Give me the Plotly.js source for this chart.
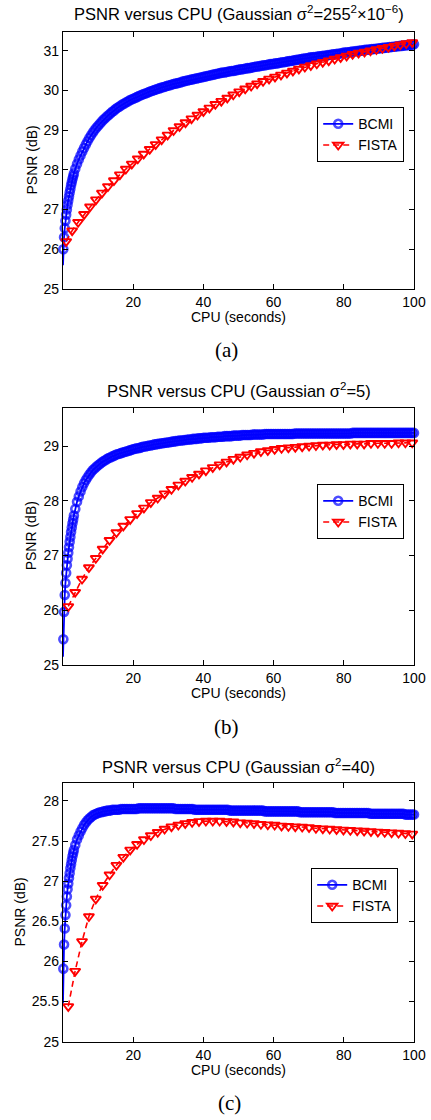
<!DOCTYPE html>
<html>
<head>
<meta charset="utf-8">
<script src="https://cdn.plot.ly/plotly-3.0.1.min.js"></script>
<style>html,body{margin:0;padding:0;background:#fff;}#chart{width:431px;height:1120px;}</style>
</head>
<body>
<div id="chart"></div>
<script>
// ---------- DATA ----------
// BCMI iteration times (seconds), shared by the three panels
const bcmiTime = [
  0, 0.1, 0.3, 0.5, 0.7, 0.9, 1.1, 1.3, 1.5, 1.7, 1.9, 2.1, 2.3, 2.5, 2.7, 2.9, 3.1, 3.5, 4, 4.5,
  5, 5.5, 6, 6.5, 7, 7.5, 8, 8.5, 9, 9.5,
  10, 10.5, 11, 11.5, 12, 12.5, 13, 13.5, 14, 14.5,
  15, 15.5, 16, 16.5, 17, 17.5, 18, 18.5, 19, 19.5,
  20, 20.5, 21, 21.5, 22, 22.5, 23, 23.5, 24, 24.5,
  25, 25.5, 26, 26.5, 27, 27.5, 28, 28.5, 29, 29.5,
  30, 30.5, 31, 31.5, 32, 32.5, 33, 33.5, 34, 34.5,
  35, 35.5, 36, 36.5, 37, 37.5, 38, 38.5, 39, 39.5,
  40, 40.5, 41, 41.5, 42, 42.5, 43, 43.5, 44, 44.5,
  45, 45.5, 46, 46.5, 47, 47.5, 48, 48.5, 49, 49.5,
  50, 50.5, 51, 51.5, 52, 52.5, 53, 53.5, 54, 54.5,
  55, 55.5, 56, 56.5, 57, 57.5, 58, 58.5, 59, 59.5,
  60, 60.5, 61, 61.5, 62, 62.5, 63, 63.5, 64, 64.5,
  65, 65.5, 66, 66.5, 67, 67.5, 68, 68.5, 69, 69.5,
  70, 70.5, 71, 71.5, 72, 72.5, 73, 73.5, 74, 74.5,
  75, 75.5, 76, 76.5, 77, 77.5, 78, 78.5, 79, 79.5,
  80, 80.5, 81, 81.5, 82, 82.5, 83, 83.5, 84, 84.5,
  85, 85.5, 86, 86.5, 87, 87.5, 88, 88.5, 89, 89.5,
  90, 90.5, 91, 91.5, 92, 92.5, 93, 93.5, 94, 94.5,
  95, 95.5, 96, 96.5, 97, 97.5, 98, 98.5, 99, 99.5,
  100
];

// (a) Gaussian sigma^2 = 255^2 x 10^-6
const bcmiA = [
  25.60, 26.00, 26.30, 26.53, 26.72, 26.87, 27.00, 27.12, 27.23, 27.33, 27.43, 27.52, 27.61, 27.69, 27.77, 27.84, 27.91, 28.03, 28.15, 28.26,
  28.36, 28.46, 28.55, 28.64, 28.72, 28.80, 28.87, 28.94, 29.00, 29.06,
  29.11, 29.16, 29.21, 29.26, 29.30, 29.34, 29.38, 29.42, 29.46, 29.49,
  29.53, 29.56, 29.59, 29.62, 29.65, 29.67, 29.70, 29.72, 29.75, 29.77,
  29.79, 29.81, 29.83, 29.85, 29.87, 29.89, 29.91, 29.92, 29.94, 29.96,
  29.98, 29.99, 30.01, 30.02, 30.04, 30.05, 30.07, 30.08, 30.09, 30.11,
  30.12, 30.13, 30.15, 30.16, 30.17, 30.18, 30.19, 30.20, 30.22, 30.23,
  30.24, 30.25, 30.26, 30.27, 30.28, 30.29, 30.30, 30.31, 30.32, 30.33,
  30.34, 30.35, 30.36, 30.37, 30.38, 30.39, 30.40, 30.41, 30.42, 30.43,
  30.44, 30.45, 30.45, 30.46, 30.47, 30.48, 30.49, 30.49, 30.50, 30.51,
  30.52, 30.53, 30.53, 30.54, 30.55, 30.56, 30.56, 30.57, 30.58, 30.59,
  30.60, 30.60, 30.61, 30.62, 30.63, 30.63, 30.64, 30.65, 30.66, 30.66,
  30.67, 30.68, 30.68, 30.69, 30.70, 30.71, 30.71, 30.72, 30.73, 30.74,
  30.74, 30.75, 30.76, 30.77, 30.77, 30.78, 30.79, 30.80, 30.80, 30.81,
  30.82, 30.83, 30.83, 30.84, 30.84, 30.85, 30.86, 30.86, 30.87, 30.87,
  30.88, 30.89, 30.89, 30.90, 30.91, 30.91, 30.92, 30.92, 30.93, 30.94,
  30.95, 30.95, 30.96, 30.96, 30.97, 30.98, 30.98, 30.99, 30.99, 31.00,
  31.00, 31.01, 31.02, 31.02, 31.03, 31.03, 31.04, 31.04, 31.05, 31.05,
  31.06, 31.06, 31.07, 31.07, 31.08, 31.08, 31.09, 31.09, 31.10, 31.10,
  31.11, 31.11, 31.12, 31.12, 31.13, 31.13, 31.14, 31.14, 31.15, 31.15,
  31.16
];
const fistaTimeA = [
  0.9, 2.6, 4.3, 6, 7.7, 9.4, 11.1, 12.8, 14.5, 16.2,
  17.9, 19.6, 21.3, 23, 24.7, 26.4, 28.1, 29.8, 31.5, 33.2,
  34.9, 36.6, 38.3, 40, 41.7, 43.4, 45.1, 46.8, 48.5, 50.2,
  51.9, 53.6, 55.3, 57, 58.7, 60.4, 62.1, 63.8, 65.5, 67.2,
  68.9, 70.6, 72.3, 74, 75.7, 77.4, 79.1, 80.8, 82.5, 84.2,
  85.9, 87.6, 89.3, 91, 92.7, 94.4, 96.1, 97.8, 99.5
];
const fistaA = [
  26.20, 26.47, 26.68, 26.88, 27.07, 27.25, 27.42, 27.58, 27.73, 27.88,
  28.02, 28.15, 28.28, 28.40, 28.52, 28.64, 28.76, 28.88, 28.99, 29.09,
  29.19, 29.29, 29.38, 29.47, 29.56, 29.65, 29.73, 29.81, 29.89, 29.97,
  30.04, 30.11, 30.17, 30.23, 30.29, 30.34, 30.39, 30.44, 30.49, 30.54,
  30.59, 30.63, 30.67, 30.71, 30.75, 30.79, 30.83, 30.87, 30.91, 30.94,
  30.97, 31.00, 31.03, 31.06, 31.09, 31.12, 31.15, 31.18, 31.21
];

// (b) Gaussian sigma^2 = 5
const bcmiB = [
  25.15, 25.47, 25.97, 26.28, 26.50, 26.68, 26.82, 26.94, 27.05, 27.15, 27.25, 27.34, 27.43, 27.51, 27.59, 27.66, 27.73, 27.85, 27.98, 28.08,
  28.17, 28.25, 28.32, 28.38, 28.43, 28.48, 28.52, 28.56, 28.59, 28.62,
  28.65, 28.67, 28.70, 28.72, 28.74, 28.76, 28.78, 28.79, 28.81, 28.82,
  28.84, 28.85, 28.86, 28.87, 28.88, 28.89, 28.90, 28.91, 28.92, 28.93,
  28.94, 28.95, 28.96, 28.96, 28.97, 28.98, 28.99, 28.99, 29.00, 29.01,
  29.01, 29.02, 29.03, 29.03, 29.04, 29.04, 29.05, 29.05, 29.06, 29.06,
  29.07, 29.07, 29.08, 29.08, 29.09, 29.09, 29.10, 29.10, 29.10, 29.11,
  29.11, 29.12, 29.12, 29.12, 29.13, 29.13, 29.13, 29.14, 29.14, 29.14,
  29.15, 29.15, 29.15, 29.15, 29.16, 29.16, 29.16, 29.16, 29.17, 29.17,
  29.17, 29.17, 29.18, 29.18, 29.18, 29.18, 29.18, 29.19, 29.19, 29.19,
  29.19, 29.19, 29.20, 29.20, 29.20, 29.20, 29.20, 29.20, 29.21, 29.21,
  29.21, 29.21, 29.21, 29.21, 29.21, 29.22, 29.22, 29.22, 29.22, 29.22,
  29.22, 29.22, 29.22, 29.22, 29.22, 29.22, 29.22, 29.22, 29.22, 29.22,
  29.22, 29.22, 29.23, 29.23, 29.23, 29.23, 29.23, 29.23, 29.23, 29.23,
  29.23, 29.23, 29.23, 29.23, 29.23, 29.23, 29.23, 29.23, 29.23, 29.23,
  29.23, 29.23, 29.23, 29.23, 29.23, 29.23, 29.23, 29.23, 29.23, 29.23,
  29.23, 29.23, 29.23, 29.23, 29.23, 29.24, 29.24, 29.24, 29.24, 29.24,
  29.24, 29.24, 29.24, 29.24, 29.24, 29.24, 29.24, 29.24, 29.24, 29.24,
  29.24, 29.24, 29.24, 29.24, 29.24, 29.24, 29.24, 29.24, 29.24, 29.24,
  29.24, 29.24, 29.24, 29.24, 29.24, 29.24, 29.24, 29.24, 29.24, 29.24,
  29.24
];
const fistaTimeBC = [
  1.5, 3.46, 5.42, 7.38, 9.34, 11.3, 13.26, 15.22, 17.18, 19.14,
  21.1, 23.06, 25.02, 26.98, 28.94, 30.9, 32.86, 34.82, 36.78, 38.74,
  40.7, 42.66, 44.62, 46.58, 48.54, 50.5, 52.46, 54.42, 56.38, 58.34,
  60.3, 62.26, 64.22, 66.18, 68.14, 70.1, 72.06, 74.02, 75.98, 77.94,
  79.9, 81.86, 83.82, 85.78, 87.74, 89.7, 91.66, 93.62, 95.58, 97.54,
  99.5
];
const fistaB = [
  26.07, 26.33, 26.57, 26.78, 26.95, 27.12, 27.28, 27.42, 27.54, 27.66,
  27.77, 27.87, 27.97, 28.05, 28.13, 28.21, 28.29, 28.36, 28.43, 28.49,
  28.55, 28.61, 28.66, 28.71, 28.76, 28.80, 28.84, 28.87, 28.90, 28.92,
  28.94, 28.96, 28.97, 28.98, 28.99, 29.00, 29.01, 29.02, 29.02, 29.03,
  29.03, 29.04, 29.04, 29.04, 29.05, 29.05, 29.05, 29.05, 29.06, 29.06,
  29.06
];

// (c) Gaussian sigma^2 = 40
const bcmiC = [
  25.48, 25.91, 26.21, 26.41, 26.58, 26.70, 26.81, 26.90, 26.97, 27.04, 27.10, 27.16, 27.21, 27.26, 27.31, 27.35, 27.39, 27.45, 27.52, 27.57,
  27.62, 27.66, 27.70, 27.73, 27.76, 27.78, 27.80, 27.82, 27.83, 27.84,
  27.85, 27.86, 27.86, 27.87, 27.87, 27.88, 27.88, 27.88, 27.89, 27.89,
  27.89, 27.89, 27.89, 27.90, 27.90, 27.90, 27.90, 27.90, 27.90, 27.90,
  27.90, 27.90, 27.90, 27.91, 27.91, 27.91, 27.91, 27.91, 27.91, 27.91,
  27.91, 27.91, 27.91, 27.91, 27.91, 27.91, 27.91, 27.91, 27.91, 27.91,
  27.91, 27.91, 27.91, 27.91, 27.90, 27.90, 27.90, 27.90, 27.90, 27.90,
  27.90, 27.90, 27.90, 27.90, 27.90, 27.89, 27.89, 27.89, 27.89, 27.89,
  27.89, 27.89, 27.89, 27.89, 27.89, 27.89, 27.89, 27.89, 27.89, 27.89,
  27.89, 27.89, 27.89, 27.89, 27.89, 27.88, 27.88, 27.88, 27.88, 27.88,
  27.88, 27.88, 27.88, 27.88, 27.88, 27.88, 27.88, 27.88, 27.88, 27.88,
  27.88, 27.88, 27.88, 27.88, 27.88, 27.87, 27.87, 27.87, 27.87, 27.87,
  27.87, 27.87, 27.87, 27.87, 27.87, 27.87, 27.87, 27.87, 27.87, 27.87,
  27.87, 27.87, 27.87, 27.87, 27.87, 27.86, 27.86, 27.86, 27.86, 27.86,
  27.86, 27.86, 27.86, 27.86, 27.86, 27.86, 27.86, 27.86, 27.86, 27.86,
  27.86, 27.86, 27.86, 27.86, 27.86, 27.85, 27.85, 27.85, 27.85, 27.85,
  27.85, 27.85, 27.85, 27.85, 27.85, 27.85, 27.85, 27.85, 27.85, 27.85,
  27.85, 27.85, 27.85, 27.85, 27.85, 27.84, 27.84, 27.84, 27.84, 27.84,
  27.84, 27.84, 27.84, 27.84, 27.84, 27.84, 27.84, 27.84, 27.84, 27.84,
  27.84, 27.84, 27.84, 27.84, 27.84, 27.83, 27.83, 27.83, 27.83, 27.83,
  27.83
];
const fistaC = [
  25.44, 25.88, 26.25, 26.56, 26.78, 26.95, 27.08, 27.20, 27.30, 27.39,
  27.46, 27.52, 27.57, 27.61, 27.65, 27.68, 27.70, 27.72, 27.735, 27.745,
  27.75, 27.75, 27.75, 27.745, 27.74, 27.73, 27.725, 27.72, 27.71, 27.705,
  27.70, 27.69, 27.685, 27.68, 27.675, 27.67, 27.66, 27.655, 27.65, 27.645,
  27.64, 27.635, 27.63, 27.625, 27.62, 27.615, 27.61, 27.605, 27.60, 27.595,
  27.59
];

const xTickVals = [20, 40, 60, 80, 100];
const yTicksA = [25, 26, 27, 28, 29, 30, 31];
const yTicksB = [25, 26, 27, 28, 29];
const yTicksC = [25, 25.5, 26, 26.5, 27, 27.5, 28];
const yTickTextC = ['25', '25.5', '26', '26.5', '27', '27.5', '28'];
const seriesNames = ['BCMI', 'FISTA'];
const titles = [
  'PSNR versus CPU (Gaussian σ<sup>2</sup>=255<sup>2</sup>×10<sup>−6</sup>)',
  'PSNR versus CPU (Gaussian σ<sup>2</sup>=5)',
  'PSNR versus CPU (Gaussian σ<sup>2</sup>=40)'
];
const captions = ['(a)', '(b)', '(c)'];
const xTitle = 'CPU (seconds)';
const yTitle = 'PSNR (dB)';

// sanity checks
[[bcmiA, bcmiTime], [bcmiB, bcmiTime], [bcmiC, bcmiTime], [fistaA, fistaTimeA], [fistaB, fistaTimeBC], [fistaC, fistaTimeBC]].forEach((p, i) => {
  if (p[0].length !== p[1].length) throw new Error('length mismatch in series ' + i + ': ' + p[0].length + ' vs ' + p[1].length);
});

// ---------- LAYOUT HELPERS ----------
const W = 431, H = 1120;
const px = v => v / W;
const py = v => 1 - v / H;
const BLUE = '#0000ff', RED = '#ff0000';
const FONT = 'Liberation Sans, Arial, Helvetica, sans-serif';

// first BCMI sample has no marker (lies at the axis start)
const bcmiSizes = bcmiTime.map((t, i) => (i === 0 ? 0 : 8));

function bcmiTrace(y, xa, ya, lg) {
  return {
    x: bcmiTime, y: y, xaxis: xa, yaxis: ya, legend: lg, name: seriesNames[0],
    type: 'scatter', mode: 'lines+markers', cliponaxis: false,
    line: {color: BLUE, width: 1.8},
    marker: {symbol: 'circle-open', size: bcmiSizes, color: BLUE, line: {width: 2.6, color: BLUE}}
  };
}
function fistaTrace(x, y, xa, ya, lg) {
  return {
    x: x, y: y, xaxis: xa, yaxis: ya, legend: lg, name: seriesNames[1],
    type: 'scatter', mode: 'lines+markers', cliponaxis: false,
    line: {color: RED, width: 1.6, dash: '6px,4px'},
    marker: {symbol: 'triangle-down-open', size: 9, color: RED, line: {width: 1.9, color: RED}}
  };
}

const data = [
  bcmiTrace(bcmiA, 'x', 'y', 'legend'),
  fistaTrace(fistaTimeA, fistaA, 'x', 'y', 'legend'),
  bcmiTrace(bcmiB, 'x2', 'y2', 'legend2'),
  fistaTrace(fistaTimeBC, fistaB, 'x2', 'y2', 'legend2'),
  bcmiTrace(bcmiC, 'x3', 'y3', 'legend3'),
  fistaTrace(fistaTimeBC, fistaC, 'x3', 'y3', 'legend3')
];

// panel boxes in pixels: [left, right, top, bottom]
const boxes = [
  [63, 414, 32, 289],
  [63, 414, 407.7, 665],
  [63, 414, 783.3, 1041.7]
];
const yRanges = [[25, 31.47], [25, 29.7], [25, 28.22]];
const yTickSets = [yTicksA, yTicksB, yTicksC];
const yTickTexts = [yTicksA.map(String), yTicksB.map(String), yTickTextC];

function xAxis(i) {
  const b = boxes[i];
  return {
    domain: [px(b[0]), px(b[1])], anchor: i === 0 ? 'y' : 'y' + (i + 1),
    range: [0, 100], tickmode: 'array', tickvals: xTickVals, ticktext: xTickVals.map(String),
    ticks: 'inside', ticklen: 5, tickwidth: 1, tickcolor: 'black',
    showline: true, mirror: 'ticks', linecolor: 'black', linewidth: 1.2,
    showgrid: false, zeroline: false, fixedrange: true,
    tickfont: {family: FONT, size: 14, color: 'black'}
  };
}
function yAxis(i) {
  const b = boxes[i];
  return {
    domain: [py(b[3]), py(b[2])], anchor: i === 0 ? 'x' : 'x' + (i + 1),
    range: yRanges[i], tickmode: 'array', tickvals: yTickSets[i], ticktext: yTickTexts[i],
    ticks: 'inside', ticklen: 5, tickwidth: 1, tickcolor: 'black',
    showline: true, mirror: 'ticks', linecolor: 'black', linewidth: 1.2,
    showgrid: false, zeroline: false, fixedrange: true,
    tickfont: {family: FONT, size: 14, color: 'black'}
  };
}
function legendAt(left, top) {
  return {
    x: px(left), y: py(top), xanchor: 'left', yanchor: 'top',
    bgcolor: 'white', bordercolor: 'black', borderwidth: 1.2,
    font: {family: FONT, size: 14, color: 'black'}, itemwidth: 30, tracegroupgap: 0
  };
}

const titleY = [13, 390, 766];
const xTitleY = [316.7, 693, 1070];
const yTitleX = [31, 31, 19];
const captionPos = [[226, 350], [226, 726.7], [229, 1103]];

const annotations = [];
for (let i = 0; i < 3; i++) {
  const b = boxes[i];
  const cx = (b[0] + b[1]) / 2;
  annotations.push({xref: 'paper', yref: 'paper', x: px(cx), y: py(titleY[i]), xanchor: 'center', yanchor: 'middle',
    text: titles[i], showarrow: false, font: {family: FONT, size: 16.5, color: 'black'}});
  annotations.push({xref: 'paper', yref: 'paper', x: px(cx), y: py(xTitleY[i]), xanchor: 'center', yanchor: 'middle',
    text: xTitle, showarrow: false, font: {family: FONT, size: 14, color: 'black'}});
  annotations.push({xref: 'paper', yref: 'paper', x: px(yTitleX[i]), y: py((b[2] + b[3]) / 2), xanchor: 'center', yanchor: 'middle',
    text: yTitle, textangle: -90, showarrow: false, font: {family: FONT, size: 14, color: 'black'}});
  annotations.push({xref: 'paper', yref: 'paper', x: px(captionPos[i][0]), y: py(captionPos[i][1]), xanchor: 'center', yanchor: 'middle',
    text: captions[i], showarrow: false, font: {family: 'Liberation Serif, Times New Roman, serif', size: 21, color: 'black'}});
}

const layout = {
  width: W, height: H, margin: {l: 0, r: 0, t: 0, b: 0, pad: 0},
  paper_bgcolor: 'white', plot_bgcolor: 'white',
  font: {family: FONT, size: 14, color: 'black'},
  showlegend: true,
  xaxis: xAxis(0), yaxis: yAxis(0),
  xaxis2: xAxis(1), yaxis2: yAxis(1),
  xaxis3: xAxis(2), yaxis3: yAxis(2),
  legend: legendAt(317, 107),
  legend2: legendAt(317, 484),
  legend3: legendAt(311, 868),
  annotations: annotations
};

Plotly.newPlot('chart', data, layout, {displayModeBar: false, staticPlot: true});
</script>
</body>
</html>
